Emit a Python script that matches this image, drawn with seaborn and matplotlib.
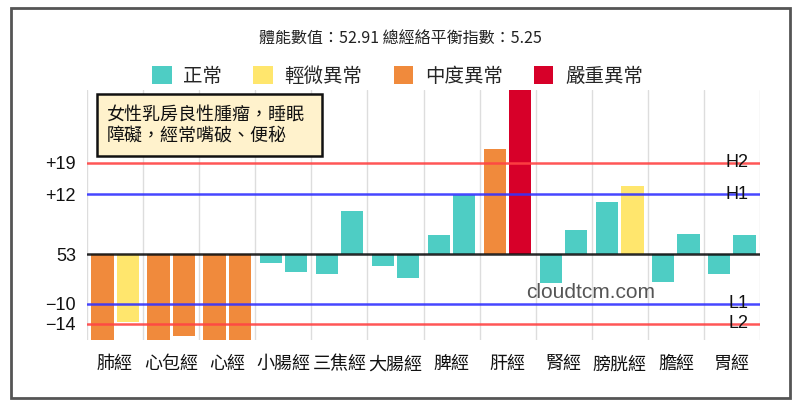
import pandas as pd
import seaborn as sns
import matplotlib.pyplot as plt
from matplotlib.patches import Rectangle, Patch

meridians = ["肺經", "心包經", "心經", "小腸經", "三焦經", "大腸經",
             "脾經", "肝經", "腎經", "膀胱經", "膽經", "胃經"]
left_vals = [-17.3, -17.3, -17.3, -1.8, -4.0, -2.4, 3.8, 21.2, -5.9, 10.4, -5.7, -4.0]
right_vals = [-13.6, -16.5, -17.3, -3.6, 8.7, -4.8, 11.9, 33.0, 4.8, 13.7, 4.0, 3.8]
left_status = ["中度異常", "中度異常", "中度異常", "正常", "正常", "正常",
               "正常", "中度異常", "正常", "正常", "正常", "正常"]
right_status = ["輕微異常", "中度異常", "中度異常", "正常", "正常", "正常",
                "正常", "嚴重異常", "正常", "輕微異常", "正常", "正常"]
status_names = ["正常", "輕微異常", "中度異常", "嚴重異常"]
status_colors = ["#4ECDC4", "#FFE66D", "#F08A3C", "#D70029"]

# reference lines: value, tick label, name, color
ref_vals = [18.4, 12, 0, -10, -14]
ref_ticks = ["+19", "+12", "53", "\u221210", "\u221214"]
ref_names = ["H2", "H1", "", "L1", "L2"]
ref_colors = ["#FF4444", "#3333FF", "#111111", "#3333FF", "#FF4444"]

title = "體能數值：52.91 總經絡平衡指數：5.25"
note = "女性乳房良性腫瘤，睡眠\n障礙，經常嘴破、便秘"

df = pd.DataFrame({
    "經絡": meridians * 2,
    "值": left_vals + right_vals,
    "側": ["左"] * 12 + ["右"] * 12,
})

sns.set_theme(style="white")
cjk = ["Noto Sans CJK TC", "DejaVu Sans"]
latin = ["Liberation Sans", "DejaVu Sans"]
plt.rcParams["font.family"] = cjk

fig = plt.figure(figsize=(8, 4.08), dpi=100)
ax = fig.add_axes([87 / 800, 1 - 340 / 408, 673 / 800, 250 / 408])

sns.barplot(data=df, x="經絡", y="值", hue="側", order=meridians,
            hue_order=["左", "右"], width=0.9, gap=0.12, legend=False,
            ax=ax, zorder=2)

cmap = dict(zip(status_names, status_colors))
for cont, stats in zip(ax.containers, [left_status, right_status]):
    for bar, s in zip(cont, stats):
        bar.set_facecolor(cmap[s])
        bar.set_edgecolor("none")

ax.set_xlim(-0.5, 11.5)
ax.set_ylim(-17.3, 33)
for x in [i - 0.5 for i in range(13)]:
    ax.axvline(x, color="#DDDDDD", lw=1, zorder=0)
for v, c in zip(ref_vals, ref_colors):
    ax.axhline(v, color=c, lw=1.8, alpha=0.9, zorder=3)
for v, n in zip(ref_vals, ref_names):
    if n:
        ax.text(11.3, v, n, ha="right", va="center", fontsize=13,
                family=latin, color="#111111", zorder=4)

ax.set_yticks(ref_vals)
ax.set_yticklabels(ref_ticks, family=latin, fontsize=13, color="#111111")
ax.tick_params(axis="y", length=0, pad=8)
ax.tick_params(axis="x", length=0, pad=11, labelsize=13, labelcolor="#111111")
ax.set_xlabel("")
ax.set_ylabel("")
for sp in ax.spines.values():
    sp.set_visible(False)

ax.text(0.749, 0.19, "cloudtcm.com", transform=ax.transAxes, ha="center",
        va="center", fontsize=15, family=latin, color="#555555", zorder=5)

# title and legend
fig.text(0.5, 1 - 38 / 408, title, ha="center", va="center", fontsize=11.5,
         color="#222222")
handles = [Patch(facecolor=c, edgecolor="none") for c in status_colors]
fig.legend(handles, status_names, ncol=4, loc="center",
           bbox_to_anchor=(0.497, 1 - 76 / 408), frameon=False, fontsize=14,
           handlelength=1.0, handleheight=1.0, handletextpad=0.6,
           columnspacing=1.6)

# note box
fig.add_artist(Rectangle((97 / 800, 1 - 156 / 408), 225 / 800, 62 / 408,
                         transform=fig.transFigure, facecolor="#FFF2CC",
                         edgecolor="#111111", lw=1.8, zorder=5))
fig.text(107 / 800, 1 - 125 / 408, note, ha="left", va="center", fontsize=13,
         linespacing=1.25, color="#111111", zorder=6)

# outer frame
fig.add_artist(Rectangle((11 / 800, 1 - 398 / 408), 779 / 800, 390 / 408,
                         transform=fig.transFigure, facecolor="none",
                         edgecolor="#555555", lw=2))

fig.savefig("out.png", dpi=100)
